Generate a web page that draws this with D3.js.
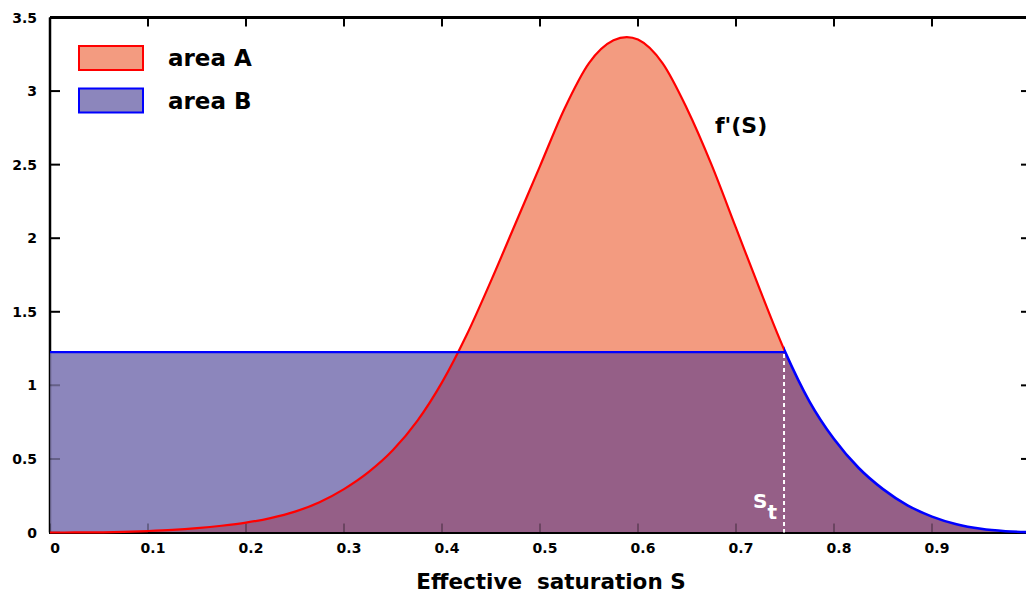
<!DOCTYPE html>
<html>
<head>
<meta charset="utf-8">
<script src="https://cdn.jsdelivr.net/npm/d3@7"></script>
<style>
  html, body { margin: 0; padding: 0; background: #fff; }
  svg { display: block; }
  text { font-family: "DejaVu Sans", Lato, sans-serif; font-weight: bold; }
</style>
</head>
<body>
<svg id="chart" width="1026" height="594"></svg>
<script>
// ---- data ----
const sValues = [0, 0.025, 0.05, 0.075, 0.1, 0.125, 0.15, 0.175, 0.2, 0.225, 0.25, 0.275, 0.3, 0.325, 0.35, 0.375, 0.4, 0.425, 0.45, 0.475, 0.5, 0.525, 0.55, 0.575, 0.6, 0.625, 0.65, 0.675, 0.7, 0.725, 0.75, 0.775, 0.8, 0.825, 0.85, 0.875, 0.9, 0.925, 0.95, 0.975, 1.0];
const fPrime  = [0, 0.0003, 0.001, 0.004, 0.010, 0.018, 0.030, 0.046, 0.067, 0.098, 0.142, 0.206, 0.295, 0.41, 0.56, 0.76, 1.02, 1.34, 1.71, 2.10, 2.49, 2.88, 3.19, 3.345, 3.35, 3.19, 2.88, 2.50, 2.07, 1.64, 1.23, 0.89, 0.635, 0.44, 0.295, 0.185, 0.108, 0.056, 0.025, 0.009, 0.002];
const levelB = 1.226;   // height of area B
const sT = 0.749;       // S_t
const xTicks = [0, 0.1, 0.2, 0.3, 0.4, 0.5, 0.6, 0.7, 0.8, 0.9];
const xTickLabels = ["0", "0.1", "0.2", "0.3", "0.4", "0.5", "0.6", "0.7", "0.8", "0.9"];
const yTicks = [0, 0.5, 1, 1.5, 2, 2.5, 3, 3.5];
const yTickLabels = ["0", "0.5", "1", "1.5", "2", "2.5", "3", "3.5"];
const legendLabels = ["area A", "area B"];

const COL_A = "#f39b80", COL_B = "#8c86bc", COL_AB = "#955f87";

const W = 1026, H = 594;
const svg = d3.select("#chart");
const x = d3.scaleLinear().domain([0, 1]).range([50, 1030]);
const y = d3.scaleLinear().domain([0, 3.5]).range([532.5, 17.5]);

const pts = sValues.map((s, i) => ({ s, v: fPrime[i] }));
const curve = d3.curveCatmullRom.alpha(0);
const area = d3.area().x(d => x(d.s)).y0(y(0)).y1(d => y(d.v)).curve(curve);
const line = d3.line().x(d => x(d.s)).y(d => y(d.v)).curve(curve);

const defs = svg.append("defs");
defs.append("clipPath").attr("id", "clipLeft")
  .append("rect").attr("x", 0).attr("y", 0).attr("width", x(sT) + 1).attr("height", H);
defs.append("clipPath").attr("id", "clipRight")
  .append("rect").attr("x", x(sT)).attr("y", 0).attr("width", W).attr("height", H);
const pc = defs.append("clipPath").attr("id", "clipPurple");
pc.append("rect").attr("x", x(0)).attr("y", y(levelB)).attr("width", x(sT) - x(0)).attr("height", y(0) - y(levelB));
pc.append("rect").attr("x", x(sT)).attr("y", 0).attr("width", W).attr("height", H);
const fc = defs.append("clipPath").attr("id", "clipFill");
fc.append("path").attr("d", area(pts));
fc.append("rect").attr("x", x(0)).attr("y", y(levelB)).attr("width", x(sT) - x(0)).attr("height", y(0) - y(levelB));

function drawFrame(g, color) {
  g.append("line").attr("x1", x(0)).attr("x2", x(0)).attr("y1", y(3.5)).attr("y2", y(0))
    .attr("stroke", color).attr("stroke-width", 2.5);
  xTicks.forEach(t => {
    g.append("line").attr("x1", x(t)).attr("x2", x(t)).attr("y1", y(0)).attr("y2", y(0) - 9)
      .attr("stroke", color).attr("stroke-width", 2);
    g.append("line").attr("x1", x(t)).attr("x2", x(t)).attr("y1", y(3.5)).attr("y2", y(3.5) + 9)
      .attr("stroke", color).attr("stroke-width", 2);
  });
  yTicks.forEach(t => {
    g.append("line").attr("x1", x(0)).attr("x2", x(0) + 10).attr("y1", y(t)).attr("y2", y(t))
      .attr("stroke", color).attr("stroke-width", 2);
    g.append("line").attr("x1", x(1)).attr("x2", x(1) - 9).attr("y1", y(t)).attr("y2", y(t))
      .attr("stroke", color).attr("stroke-width", 2);
  });
}

const frame = svg.append("g");
drawFrame(frame, "#000");
frame.append("line").attr("x1", x(0)).attr("x2", W).attr("y1", y(3.5)).attr("y2", y(3.5))
  .attr("stroke", "#000").attr("stroke-width", 3);

// fills
svg.append("path").attr("d", area(pts)).attr("fill", COL_A);
svg.append("rect").attr("x", x(0)).attr("y", y(levelB)).attr("width", x(sT) - x(0)).attr("height", y(0) - y(levelB)).attr("fill", COL_B);
svg.append("path").attr("d", area(pts)).attr("fill", COL_AB).attr("clip-path", "url(#clipPurple)");

// frame showing through fills
const frame2 = svg.append("g").attr("clip-path", "url(#clipFill)");
drawFrame(frame2, "rgba(0,0,0,0.28)");

// bottom axis
svg.append("line").attr("x1", x(0) - 1).attr("x2", W).attr("y1", y(0) + 0.5).attr("y2", y(0) + 0.5)
  .attr("stroke", "#000").attr("stroke-width", 2);

// curves
svg.append("path").attr("d", line(pts)).attr("fill", "none").attr("stroke", "#ff0000").attr("stroke-width", 2.2)
  .attr("clip-path", "url(#clipLeft)");
svg.append("line").attr("x1", x(0)).attr("x2", x(sT)).attr("y1", y(levelB)).attr("y2", y(levelB))
  .attr("stroke", "#0000ff").attr("stroke-width", 2.2);
svg.append("path").attr("d", line(pts)).attr("fill", "none").attr("stroke", "#0000ff").attr("stroke-width", 2.6)
  .attr("clip-path", "url(#clipRight)");

// S_t dashed line
svg.append("line").attr("x1", x(sT)).attr("x2", x(sT)).attr("y1", y(levelB) + 2).attr("y2", y(0))
  .attr("stroke", "#fff").attr("stroke-width", 2).attr("stroke-dasharray", "4,3");
const st = svg.append("text").attr("x", 753).attr("y", 508).attr("fill", "#fff").attr("font-size", 20);
st.append("tspan").text("S");
st.append("tspan").text("t").attr("dy", 11).attr("dx", 0).attr("font-size", 20);

// tick labels
svg.append("g").selectAll("text").data(yTicks).join("text")
  .attr("x", 37).attr("y", d => y(d)).attr("text-anchor", "end").attr("dominant-baseline", "central")
  .attr("font-size", 14).text((d, i) => yTickLabels[i]);
svg.append("g").selectAll("text").data(xTicks).join("text")
  .attr("x", d => x(d) + 5).attr("y", 548).attr("text-anchor", "middle").attr("dominant-baseline", "central")
  .attr("font-size", 14).text((d, i) => xTickLabels[i]);

// axis title
svg.append("text").attr("x", 551).attr("y", 581).attr("text-anchor", "middle").attr("dominant-baseline", "central")
  .attr("font-size", 21.5).style("white-space", "pre").text("Effective  saturation S");

// f'(S) label
svg.append("text").attr("x", 715).attr("y", 125).attr("dominant-baseline", "central")
  .attr("font-size", 22).text("f'(S)");

// legend
const legend = svg.append("g");
[[COL_A, "#ff0000"], [COL_B, "#0000ff"]].forEach((c, i) => {
  legend.append("rect").attr("x", 79).attr("y", 46 + i * 42.5).attr("width", 64).attr("height", 24)
    .attr("fill", c[0]).attr("stroke", c[1]).attr("stroke-width", 2);
  legend.append("text").attr("x", 168).attr("y", 58 + i * 42.5).attr("dominant-baseline", "central")
    .attr("font-size", 23).text(legendLabels[i]);
});
</script>
</body>
</html>
